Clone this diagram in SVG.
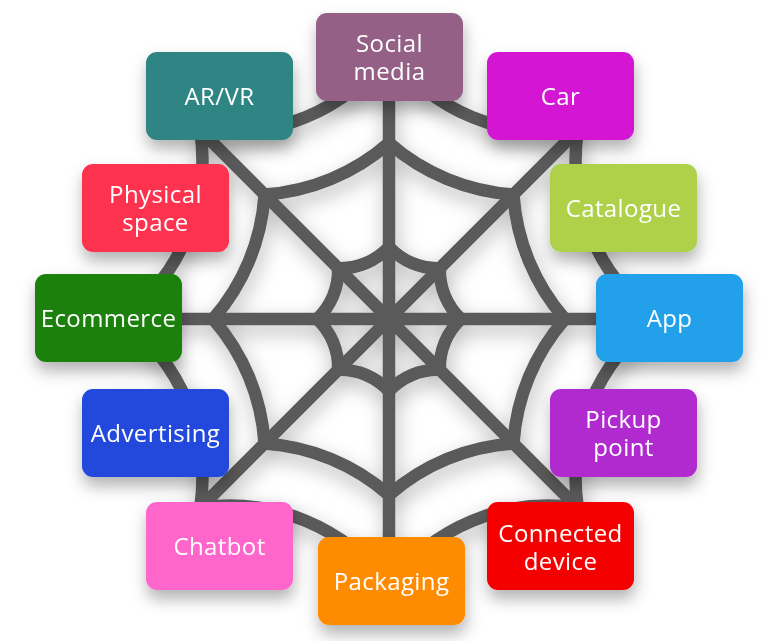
<svg xmlns="http://www.w3.org/2000/svg" width="768" height="641" viewBox="0 0 768 641">
<defs>
<filter id="webShadow" x="-20%" y="-20%" width="140%" height="140%">
<feDropShadow dx="2" dy="8" stdDeviation="10" flood-color="#000" flood-opacity="0.28"/>
</filter>
<filter id="boxShadow" x="-20%" y="-20%" width="140%" height="150%">
<feDropShadow dx="1" dy="9" stdDeviation="8" flood-color="#000" flood-opacity="0.3"/>
</filter>
<style>
.web{fill:none;stroke:#5a5a5a;stroke-width:12.5;stroke-linejoin:round}
.box{filter:url(#boxShadow)}
.lbl{font-family:"Open Sans","Liberation Sans",sans-serif;font-size:24px;letter-spacing:0.4px;fill:#ffffff;text-anchor:middle}
</style>
</defs>
<rect width="768" height="641" fill="#ffffff"/>
<g id="connectors" filter="url(#webShadow)">
<g class="web">
<path d="M389,52 V586 M122,319 H656 M200.2,130.2 L577.8,507.8 M577.8,130.2 L200.2,507.8"/>
<path d="M389,247 A66,66 0 0 0 439.91,268.09 A66,66 0 0 0 461,319 A66,66 0 0 0 439.91,369.91 A66,66 0 0 0 389,391 A66,66 0 0 0 338.09,369.91 A66,66 0 0 0 317,319 A66,66 0 0 0 338.09,268.09 A66,66 0 0 0 389,247 Z"/>
<path d="M389,143 A210,210 0 0 0 513.45,194.55 A210,210 0 0 0 565,319 A210,210 0 0 0 513.45,443.45 A210,210 0 0 0 389,495 A210,210 0 0 0 264.55,443.45 A210,210 0 0 0 213,319 A210,210 0 0 0 264.55,194.55 A210,210 0 0 0 389,143 Z"/>
<path d="M389,52 A198,198 0 0 0 577.8,130.2 A198,198 0 0 0 656,319 A198,198 0 0 0 577.8,507.8 A198,198 0 0 0 389,586 A198,198 0 0 0 200.2,507.8 A198,198 0 0 0 122,319 A198,198 0 0 0 200.2,130.2 A198,198 0 0 0 389,52 Z"/>
</g>
</g>
<g id="social-media" class="box">
<rect x="316" y="13" width="147" height="88" rx="11" fill="#946186"/>
<text class="lbl" x="389.5" y="52">Social</text>
<text class="lbl" x="389.5" y="80">media</text>
</g>
<g id="ar-vr" class="box">
<rect x="146" y="52" width="147" height="88" rx="11" fill="#2e8584"/>
<text class="lbl" x="219.5" y="105">AR/VR</text>
</g>
<g id="car" class="box">
<rect x="487" y="52" width="147" height="88" rx="11" fill="#d417d4"/>
<text class="lbl" x="560.5" y="105">Car</text>
</g>
<g id="physical-space" class="box">
<rect x="82" y="164" width="147" height="88" rx="11" fill="#fc324f"/>
<text class="lbl" x="155.5" y="203">Physical</text>
<text class="lbl" x="155.5" y="231">space</text>
</g>
<g id="catalogue" class="box">
<rect x="550" y="164" width="147" height="88" rx="11" fill="#aed14a"/>
<text class="lbl" x="623.5" y="217">Catalogue</text>
</g>
<g id="ecommerce" class="box">
<rect x="35" y="274" width="147" height="88" rx="11" fill="#1f800f"/>
<text class="lbl" x="108.5" y="327">Ecommerce</text>
</g>
<g id="app" class="box">
<rect x="596" y="274" width="147" height="88" rx="11" fill="#22a1ea"/>
<text class="lbl" x="669.5" y="327">App</text>
</g>
<g id="advertising" class="box">
<rect x="82" y="389" width="147" height="88" rx="11" fill="#2249db"/>
<text class="lbl" x="155.5" y="442">Advertising</text>
</g>
<g id="pickup-point" class="box">
<rect x="550" y="389" width="147" height="88" rx="11" fill="#b02bd0"/>
<text class="lbl" x="623.5" y="428">Pickup</text>
<text class="lbl" x="623.5" y="456">point</text>
</g>
<g id="chatbot" class="box">
<rect x="146" y="502" width="147" height="88" rx="11" fill="#ff66cc"/>
<text class="lbl" x="219.5" y="555">Chatbot</text>
</g>
<g id="packaging" class="box">
<rect x="318" y="537" width="147" height="88" rx="11" fill="#ff8c00"/>
<text class="lbl" x="391.5" y="590">Packaging</text>
</g>
<g id="connected-device" class="box">
<rect x="487" y="502" width="147" height="88" rx="11" fill="#f50505"/>
<text class="lbl" x="560.5" y="542">Connected</text>
<text class="lbl" x="560.5" y="570">device</text>
</g>
</svg>
